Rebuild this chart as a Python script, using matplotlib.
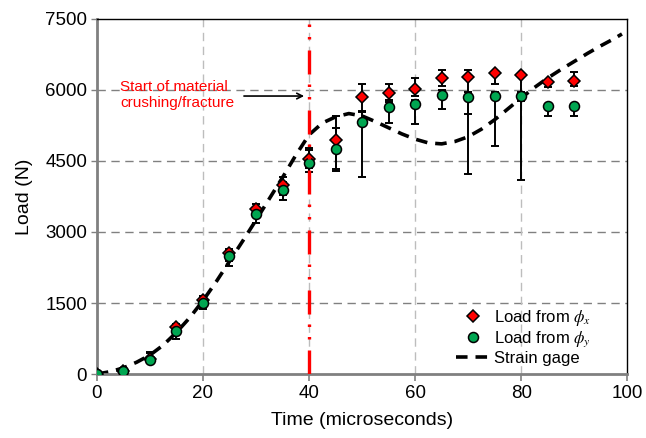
import matplotlib
matplotlib.use("Agg")
import matplotlib.pyplot as plt
import numpy as np

plt.rcParams["font.family"] = ["Liberation Sans", "DejaVu Sans"]
plt.rcParams["mathtext.fontset"] = "stix"

# measurement times (microseconds)
time_us = [0, 5, 10, 15, 20, 25, 30, 35, 40, 45, 50, 55, 60, 65, 70, 75, 80, 85, 90]

# load from phi_x (red diamonds) and its error bars
load_x = [0, 60, 320, 987, 1558, 2546, 3491, 3991, 4550, 4937, 5854, 5931, 6016, 6242, 6264, 6354, 6312, 6158, 6192]
load_x_lo = [0, 40, 60, 120, 120, 150, 180, 200, 200, 614, 310, 150, 150, 150, 777, 232, 544, 100, 120]
load_x_hi = [0, 60, 140, 60, 90, 90, 100, 180, 220, 501, 261, 184, 233, 182, 160, 40, 40, 40, 177]

# load from phi_y (green circles) and its error bars
load_y = [0, 55, 290, 902, 1502, 2489, 3371, 3879, 4465, 4761, 5332, 5642, 5692, 5889, 5853, 5861, 5861, 5663, 5650]
load_y_lo = [0, 40, 60, 160, 130, 200, 180, 210, 200, 474, 1164, 331, 402, 296, 1636, 1045, 1764, 212, 199]
load_y_hi = [0, 40, 160, 140, 140, 140, 160, 180, 260, 444, 200, 100, 100, 100, 100, 100, 100, 40, 40]

# strain gage trace
gage_t = [0, 2.5, 5, 7.5, 10, 12.5, 15, 17.5, 20, 22.5, 25, 27.5, 30, 32.5, 35, 37.5, 40,
          42.5, 45, 47.5, 50, 52.5, 55, 57.5, 60, 62.5, 65, 67.5, 70, 72.5, 75, 77.5, 80,
          82.5, 85, 87.5, 90, 92.5, 95, 97.5, 99]
gage_load = [0, 50, 130, 250, 400, 610, 880, 1190, 1550, 1950, 2380, 2810, 3250, 3700, 4150,
             4620, 5050, 5300, 5430, 5500, 5450, 5330, 5200, 5070, 4960, 4880, 4860, 4910, 5010,
             5170, 5370, 5600, 5830, 6050, 6250, 6430, 6600, 6770, 6930, 7080, 7180]

fig = plt.figure(figsize=(6.46, 4.38), dpi=100)
ax = fig.add_axes([0.150, 0.146, 0.821, 0.811])

# grid
for yv in [1500, 3000, 4500, 6000]:
    ax.axhline(yv, color="#808080", lw=1, dashes=(6, 4), zorder=0)
for xv in [20, 40, 60, 80]:
    ax.axvline(xv, color="#bdbdbd", lw=1, dashes=(6, 4), zorder=0)

gage, = ax.plot(gage_t, gage_load, color="black", lw=2.6, dashes=(3.2, 2.2), zorder=2,
                label="Strain gage")

ax.errorbar(time_us, load_x, yerr=[load_x_lo, load_x_hi], fmt="none", ecolor="black",
            elinewidth=1.4, capsize=2.8, capthick=1.4, zorder=3)
ax.errorbar(time_us, load_y, yerr=[load_y_lo, load_y_hi], fmt="none", ecolor="black",
            elinewidth=1.4, capsize=2.8, capthick=1.4, zorder=3)
h1, = ax.plot(time_us, load_x, "D", color="#ff0000", mec="black", mew=1.1, ms=6.6,
              ls="none", zorder=4, label=r"Load from $\phi_x$")
h2, = ax.plot(time_us, load_y, "o", color="#00a651", mec="black", mew=1.1, ms=7.2,
              ls="none", zorder=4.5, label=r"Load from $\phi_y$")

# start of crushing
ax.axvline(40, color="#ff0000", lw=2.4, dashes=(7.2, 3.3, 0.75, 3, 0.75, 3), zorder=5)
ax.annotate("", xy=(39.6, 5870), xytext=(27.2, 5870),
            arrowprops=dict(arrowstyle="->", color="black", lw=1.2), zorder=6)
ax.text(4.4, 5900, "Start of material\ncrushing/fracture", color="#ff0000", fontsize=11,
        ha="left", va="center", linespacing=1.2)

ax.set_xlim(0, 100)
ax.set_ylim(0, 7500)
ax.set_xticks([0, 20, 40, 60, 80, 100])
ax.set_yticks([0, 1500, 3000, 4500, 6000, 7500])
ax.tick_params(axis="x", length=5, width=1.2, color="#808080", labelsize=13.5, pad=3)
ax.tick_params(axis="y", length=4, width=1, color="#808080", labelsize=13.5, pad=3)
ax.set_xlabel("Time (microseconds)", fontsize=14, labelpad=7)
ax.set_ylabel("Load (N)", fontsize=14, labelpad=9)

for s in ["left", "bottom"]:
    ax.spines[s].set_color("#808080")
    ax.spines[s].set_linewidth(2)
for s in ["top", "right"]:
    ax.spines[s].set_color("black")
    ax.spines[s].set_linewidth(1)

ax.legend(handles=[h1, h2, gage], loc="lower right", bbox_to_anchor=(0.948, 0.0),
          frameon=False, fontsize=12, handlelength=2.0, handletextpad=0.3,
          labelspacing=0.1, borderaxespad=0.1)

fig.savefig("out.png", dpi=100)
